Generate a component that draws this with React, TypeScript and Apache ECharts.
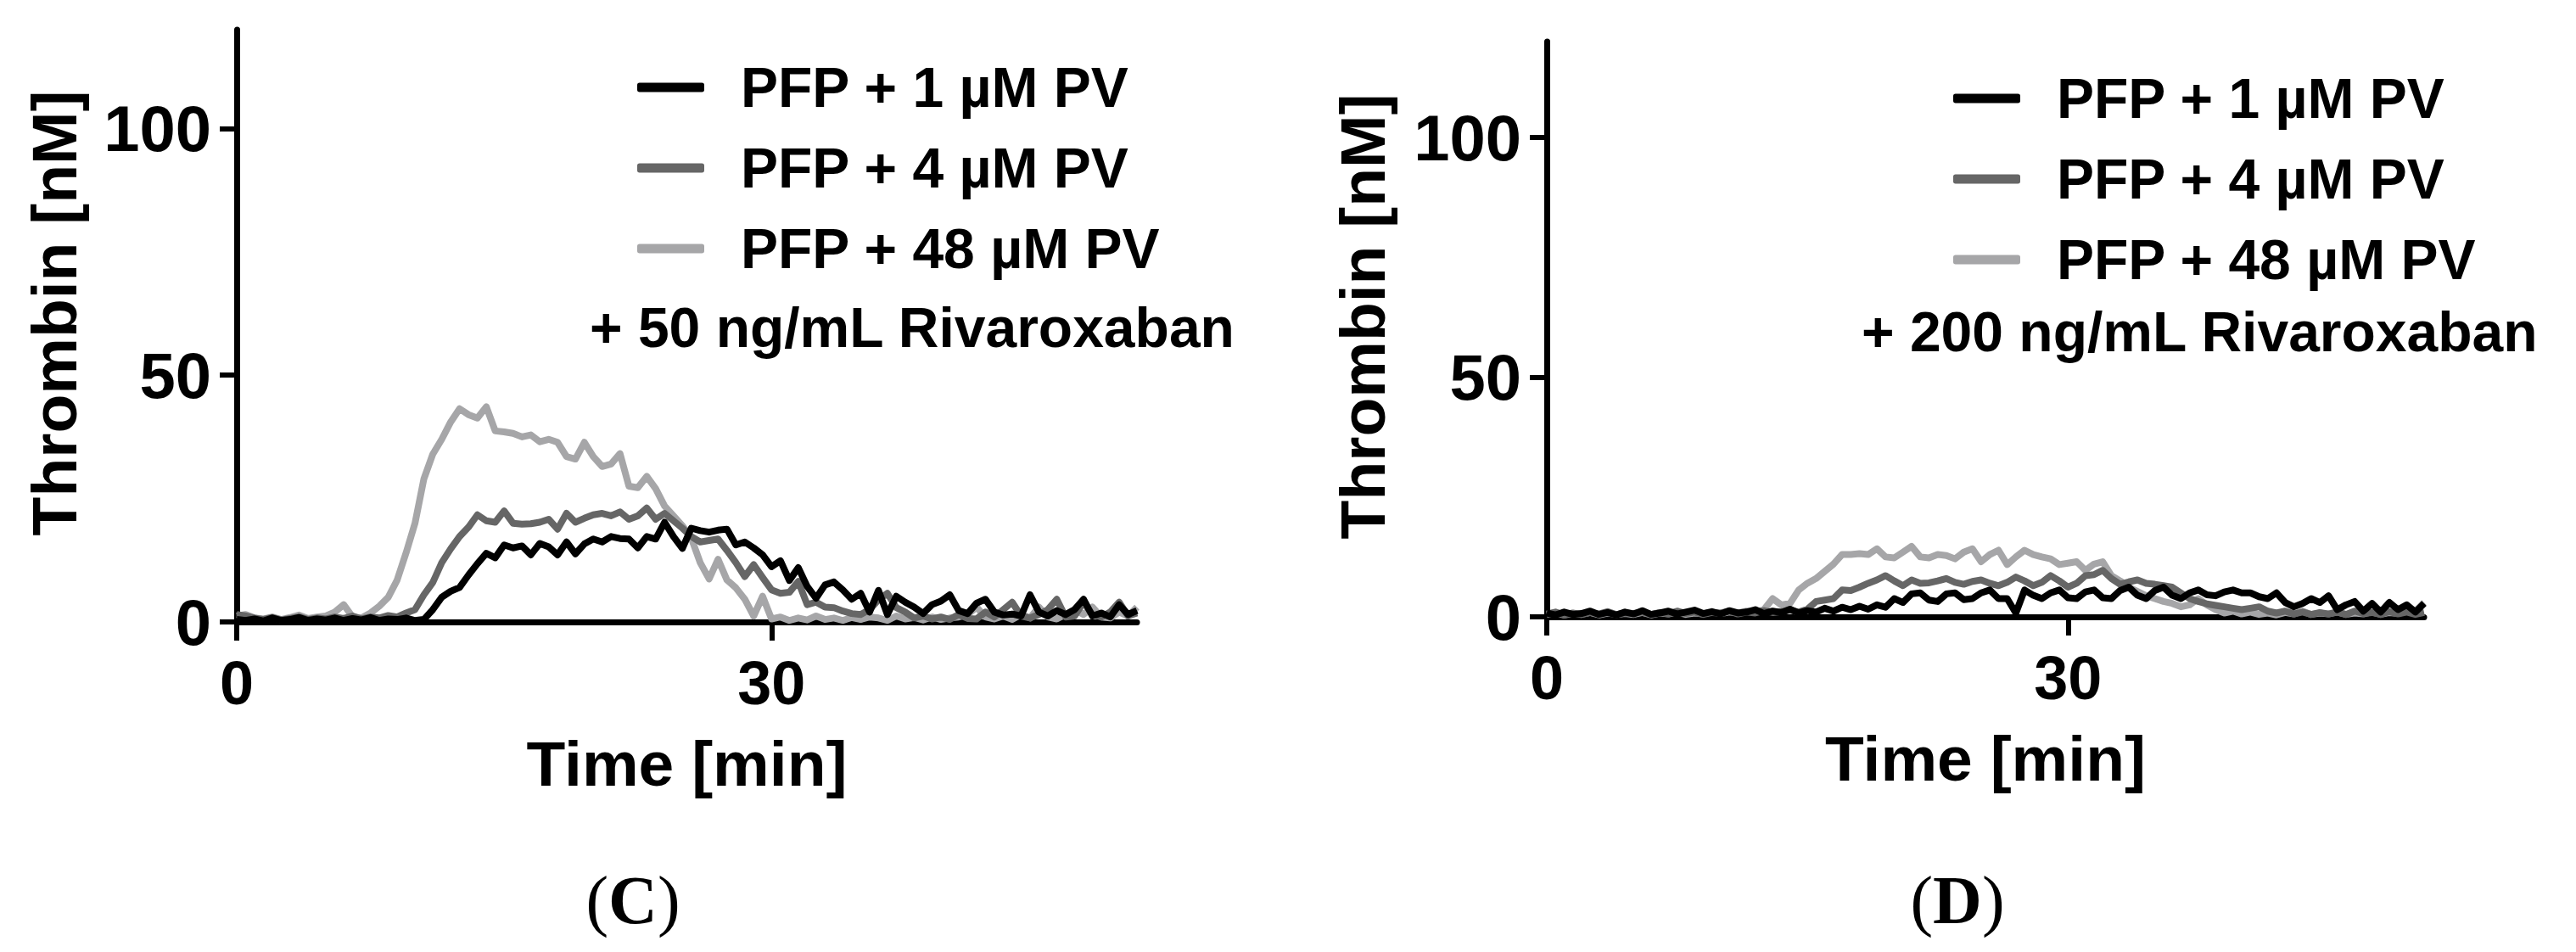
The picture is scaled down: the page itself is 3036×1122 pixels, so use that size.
import React, { useEffect, useRef } from 'react';
import * as echarts from 'echarts';

// ---- data (time in min, thrombin in nM) ----
const TIME = [
  0, 0.5, 1, 1.5, 2, 2.5, 3, 3.5, 4, 4.5,
  5, 5.5, 6, 6.5, 7, 7.5, 8, 8.5, 9, 9.5,
  10, 10.5, 11, 11.5, 12, 12.5, 13, 13.5, 14, 14.5,
  15, 15.5, 16, 16.5, 17, 17.5, 18, 18.5, 19, 19.5,
  20, 20.5, 21, 21.5, 22, 22.5, 23, 23.5, 24, 24.5,
  25, 25.5, 26, 26.5, 27, 27.5, 28, 28.5, 29, 29.5,
  30, 30.5, 31, 31.5, 32, 32.5, 33, 33.5, 34, 34.5,
  35, 35.5, 36, 36.5, 37, 37.5, 38, 38.5, 39, 39.5,
  40, 40.5, 41, 41.5, 42, 42.5, 43, 43.5, 44, 44.5,
  45, 45.5, 46, 46.5, 47, 47.5, 48, 48.5, 49, 49.5,
  50, 50.5,
];

const SERIES_NAMES = ['PFP + 1 µM PV', 'PFP + 4 µM PV', 'PFP + 48 µM PV'];
const SERIES_COLORS = ['#000000', '#666666', '#a6a6a8'];

const X_TICKS = [0, 30];
const Y_TICKS = [0, 50, 100];

// Panel C: + 50 ng/mL Rivaroxaban
const C_1UM = [
  0.5, 0.3, 0.6, 0.2, 0.8, 0.3, 0.5, 0.9, 0.3, 0.6,
  0.4, 0.8, 0.3, 0.7, 0.4, 0.9, 0.3, 0.6, 0.5, 0.8,
  0.3, 0.5, 2.5, 5.0, 6.2, 7.0, 9.5, 11.8, 13.9, 13.0,
  15.6, 15.0, 15.4, 13.6, 15.9, 15.2, 13.6, 16.2, 13.8, 15.8,
  16.8, 16.2, 17.3, 16.9, 16.8, 15.0, 17.3, 16.8, 20.2, 17.3,
  14.9, 19.0, 18.5, 18.2, 18.6, 18.8, 15.6, 16.2, 15.0, 13.6,
  11.2, 12.4, 8.4, 11.0, 7.2, 4.8, 7.5, 8.1, 6.5, 4.6,
  5.8, 2.0, 6.4, 1.5, 5.2, 4.0, 3.0, 1.7, 3.5, 4.2,
  5.5, 2.3, 1.7, 3.8, 4.6, 2.0, 1.4, 1.6, 1.2, 5.5,
  2.0, 1.2, 2.3, 1.5, 2.5, 4.6, 1.2, 1.8, 1.0, 3.5,
  1.5, 2.3,
];
const C_4UM = [
  1.5, 1.2, 0.8, 0.5, 0.9, 0.4, 0.7, 1.0, 0.5, 0.8,
  0.6, 1.0, 0.7, 1.2, 0.6, 1.0, 0.8, 1.3, 1.0, 1.8,
  2.5, 5.5, 8.0, 12.0, 14.8, 17.3, 19.2, 21.7, 20.5, 20.2,
  22.5, 20.0, 19.8, 19.9, 20.2, 20.8, 18.8, 22.0, 20.2, 21.0,
  21.7, 22.0, 21.5, 22.3, 20.8, 21.5, 23.1, 20.8, 22.0, 20.5,
  19.0, 17.3, 16.2, 16.5, 16.8, 14.5, 12.0, 9.2, 11.6, 9.0,
  6.5, 5.8, 6.0, 8.2, 3.5, 4.0, 3.0, 2.9, 2.2, 1.7,
  1.5, 2.5, 4.5, 5.8, 2.9, 2.0, 0.8, 1.2, 0.6, 1.0,
  0.5, 1.5, 0.7, 0.6, 2.0, 1.0, 2.5, 4.0, 1.2, 0.8,
  1.5, 2.5, 4.6, 1.0, 1.2, 4.0, 1.5, 1.0, 2.0, 4.0,
  1.2, 1.8,
];
const C_48UM = [
  1.2, 1.5, 0.8, 0.6, 1.0, 0.5, 0.9, 1.4, 0.7, 1.0,
  1.2, 2.0, 3.5, 1.0, 0.8, 1.8, 3.2, 5.0, 8.5, 14.0,
  20.0, 29.0, 34.0, 37.0, 40.5, 43.2, 42.0, 41.3, 43.6, 38.7,
  38.5, 38.2, 37.5, 37.9, 36.5, 37.0, 36.4, 33.5, 33.0, 36.4,
  33.5, 31.5, 32.0, 34.1, 27.5, 27.2, 29.5, 27.0, 23.5, 21.5,
  19.5, 17.0, 12.0, 8.7, 12.7, 8.5, 6.9, 4.6, 1.2, 5.2,
  0.6, 1.0, 0.3, 0.8, 0.4, 1.2, 0.5, 0.8, 0.3, 0.9,
  0.5, 1.0, 0.8, 0.3, 1.2, 0.6, 0.9, 0.4, 1.0, 0.5,
  0.8, 1.0, 1.5, 3.0, 1.0, 0.6, 1.2, 0.5, 1.5, 0.8,
  3.0, 1.0, 0.6, 1.5, 2.5, 1.5, 3.0, 1.0, 0.8, 2.0,
  1.2, 3.0,
];

// Panel D: + 200 ng/mL Rivaroxaban
const D_1UM = [
  0.8, 0.4, 1.0, 0.5, 0.7, 1.2, 0.5, 0.9, 0.4, 1.0,
  0.6, 1.3, 0.5, 0.8, 1.2, 0.6, 1.0, 1.4, 0.7, 1.1,
  0.6, 1.3, 0.8, 1.0, 1.5, 0.7, 1.2, 0.9, 1.6, 0.8,
  1.3, 1.0, 1.8, 1.2, 2.0, 1.5, 2.2, 1.6, 2.5, 2.0,
  3.8, 3.0, 4.8, 5.0, 3.5, 3.2, 4.8, 5.0, 3.6, 3.8,
  5.0, 5.6, 3.8, 3.8, 0.8, 5.6, 4.5, 3.8, 5.0, 5.6,
  4.0, 3.8, 5.2, 5.6, 4.0, 3.8, 5.5, 6.2, 4.5, 3.8,
  5.5, 6.2, 4.5, 3.8, 5.0, 5.6, 4.6, 4.4, 5.2, 5.6,
  5.0, 5.0, 4.2, 3.8, 5.0, 3.0, 2.1, 2.8, 3.8, 3.0,
  4.4, 1.5, 2.5, 3.2, 1.2, 2.8, 1.0, 3.0, 1.5, 2.5,
  1.0, 2.8,
];
const D_4UM = [
  0.6, 1.0, 0.4, 0.8, 0.5, 0.9, 0.6, 1.1, 0.5, 0.8,
  0.7, 1.0, 0.5, 0.9, 0.6, 1.2, 0.7, 1.0, 0.5, 0.9,
  0.8, 1.2, 0.6, 1.0, 0.8, 1.3, 0.9, 1.1, 1.4, 1.0,
  1.6, 3.2, 3.5, 3.8, 5.6, 5.5, 6.2, 7.0, 7.7, 8.6,
  7.5, 6.5, 7.7, 7.0, 7.1, 7.5, 8.0, 7.2, 6.8, 7.4,
  7.7, 7.0, 6.5, 7.2, 8.3, 7.5, 6.5, 7.2, 8.6, 7.5,
  6.2, 7.0, 8.6, 8.8, 9.7, 8.0, 6.8, 7.3, 7.7, 7.0,
  6.8, 6.5, 6.2, 5.0, 3.8, 3.2, 2.7, 2.4, 2.1, 1.8,
  1.5, 1.8, 2.1, 1.2, 0.8, 1.2, 0.6, 1.0, 0.5, 0.9,
  0.6, 1.0, 0.5, 1.2, 0.7, 0.9, 0.5, 1.1, 0.6, 1.0,
  0.5, 0.9,
];
const D_48UM = [
  0.5, 0.8, 0.4, 0.7, 0.5, 0.9, 0.4, 0.8, 0.5, 0.7,
  0.5, 0.9, 0.4, 0.8, 0.6, 1.0, 0.5, 0.8, 0.6, 1.0,
  0.7, 1.0, 0.8, 1.2, 1.0, 1.5, 3.8, 2.5, 2.8, 5.6,
  7.0, 8.0, 9.5, 11.0, 13.0, 13.0, 13.2, 13.0, 14.2, 12.5,
  12.3, 13.5, 14.7, 12.5, 12.3, 13.0, 12.8, 12.1, 13.5, 14.2,
  11.5, 13.0, 13.9, 10.9, 12.5, 13.9, 13.0, 12.5, 12.1, 10.9,
  11.2, 11.5, 9.7, 11.0, 11.5, 8.6, 7.5, 6.2, 5.3, 4.4,
  3.8, 3.2, 2.8, 2.1, 2.5, 3.8, 2.5, 1.5, 0.8, 1.2,
  0.6, 1.0, 0.5, 0.8, 0.4, 0.9, 0.6, 1.2, 0.5, 0.8,
  0.6, 1.0, 0.5, 0.8, 0.6, 1.0, 0.5, 0.9, 0.7, 1.2,
  1.2, 3.0,
];

const X_MAX = 50.5;
const Y_MAX = 120;

// ---- layout ----
const FONT = '"Liberation Sans", Arial, Helvetica, sans-serif';
const SERIF = '"Liberation Serif", "Times New Roman", Times, serif';

const PANELS = [
  {
    grid: { left: 279, top: 35, width: 1061, height: 698 },
    values: [C_1UM, C_4UM, C_48UM],
    legend: { left: 746, top: 60 },
    note: { text: '+ 50 ng/mL Rivaroxaban', x: 695, y: 386 },
    tag: { text: 'C', x: 746, y: 1061 },
    yNameGap: 178,
  },
  {
    grid: { left: 1823, top: 49, width: 1034, height: 678 },
    values: [D_1UM, D_4UM, D_48UM],
    legend: { left: 2297, top: 73 },
    note: { text: '+ 200 ng/mL Rivaroxaban', x: 2194, y: 391 },
    tag: { text: 'D', x: 2307, y: 1061 },
    yNameGap: 180,
  },
];

function buildOption() {
  const grid: any[] = [];
  const xAxis: any[] = [];
  const yAxis: any[] = [];
  const series: any[] = [];
  const legend: any[] = [];
  const graphic: any[] = [];

  const axisLine = { show: true, onZero: false, lineStyle: { color: '#000', width: 7 } };

  PANELS.forEach((p, i) => {
    grid.push({ ...p.grid, containLabel: false });
    xAxis.push({
      type: 'value',
      gridIndex: i,
      min: 0,
      max: X_MAX,
      axisLine,
      axisTick: { show: true, length: 22, customValues: X_TICKS, lineStyle: { color: '#000', width: 6 } },
      axisLabel: {
        customValues: X_TICKS,
        fontSize: 72,
        fontWeight: 'bold',
        fontFamily: FONT,
        color: '#000',
        margin: 36,
      },
      splitLine: { show: false },
      name: 'Time [min]',
      nameLocation: 'middle',
      nameGap: 129,
      nameTextStyle: { fontSize: 75, fontWeight: 'bold', fontFamily: FONT, color: '#000' },
    });
    yAxis.push({
      type: 'value',
      gridIndex: i,
      min: 0,
      max: Y_MAX,
      axisLine,
      axisTick: { show: true, length: 20, customValues: Y_TICKS, lineStyle: { color: '#000', width: 6 } },
      axisLabel: {
        customValues: Y_TICKS,
        fontSize: 76,
        fontWeight: 'bold',
        fontFamily: FONT,
        color: '#000',
        margin: 30,
      },
      splitLine: { show: false },
      name: 'Thrombin [nM]',
      nameLocation: 'middle',
      nameGap: p.yNameGap,
      nameTextStyle: {
        fontSize: 75,
        fontWeight: 'bold',
        fontFamily: FONT,
        color: '#000',
        padding: [0, 0, 0, 30],
      },
    });
    // draw lightest first so the black trace is on top
    [2, 1, 0].forEach((k) => {
      series.push({
        type: 'line',
        name: SERIES_NAMES[k],
        xAxisIndex: i,
        yAxisIndex: i,
        data: TIME.map((t, j) => [t, p.values[k][j]]),
        symbol: 'none',
        showSymbol: false,
        silent: true,
        lineStyle: { color: SERIES_COLORS[k], width: 8, join: 'round' },
        itemStyle: { color: SERIES_COLORS[k] },
        z: 3 + (2 - k),
      });
    });
    legend.push({
      data: SERIES_NAMES,
      orient: 'vertical',
      left: p.legend.left,
      top: p.legend.top,
      itemWidth: 79,
      itemHeight: 11,
      itemGap: 19,
      icon: 'roundRect',
      selectedMode: false,
      textStyle: {
        fontSize: 66,
        fontWeight: 'bold',
        fontFamily: FONT,
        color: '#000',
        lineHeight: 76,
        padding: [0, 0, 0, 38],
      },
    });
    graphic.push({
      type: 'text',
      x: p.note.x,
      y: p.note.y,
      style: {
        text: p.note.text,
        fontSize: 66,
        fontWeight: 'bold',
        fontFamily: FONT,
        fill: '#000',
        align: 'left',
        verticalAlign: 'middle',
      },
    });
    graphic.push({
      type: 'text',
      x: p.tag.x,
      y: p.tag.y,
      style: {
        text: '{n|(}{b|' + p.tag.text + '}{n|)}',
        align: 'center',
        verticalAlign: 'middle',
        rich: {
          n: { fontSize: 80, fontFamily: SERIF, fill: '#000' },
          b: { fontSize: 80, fontWeight: 'bold', fontFamily: SERIF, fill: '#000' },
        },
      },
    });
  });

  return {
    animation: false,
    backgroundColor: '#ffffff',
    grid,
    xAxis,
    yAxis,
    series,
    legend,
    graphic,
  };
}

export default function App() {
  const ref = useRef<HTMLDivElement>(null);
  useEffect(() => {
    if (!ref.current) return;
    const chart = echarts.init(ref.current, null, { renderer: 'svg' });
    chart.setOption(buildOption() as any);
    return () => chart.dispose();
  }, []);
  return (
    <div
      ref={ref}
      style={{ position: 'absolute', left: 0, top: 0, width: 3036, height: 1122, background: '#fff' }}
    />
  );
}
